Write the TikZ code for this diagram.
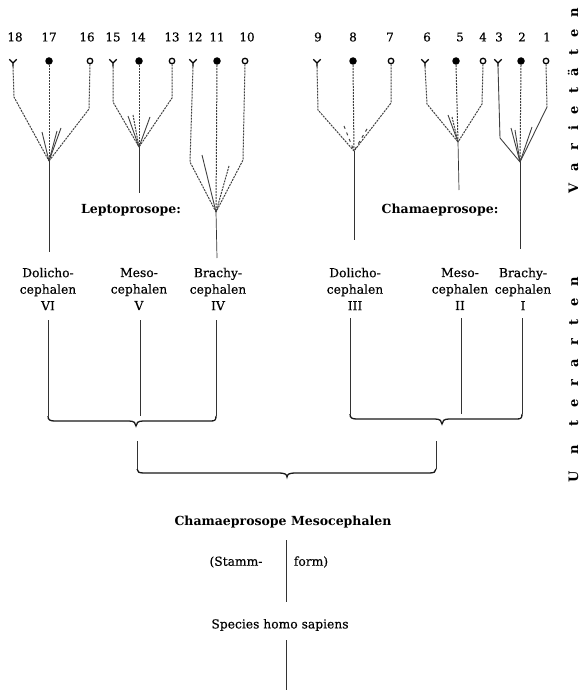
\documentclass[tikz,border=0pt]{standalone}
\usepackage{fontspec}
\setmainfont{DejaVu Serif}
\newfontfamily\heavyf[FakeBold=0.4]{DejaVu Serif}
\newcommand{\numf}{\heavyf\fontsize{12}{14}\selectfont}
\newcommand{\labf}{\heavyf\fontsize{12.3}{16.5}\selectfont}
\newcommand{\titf}{\bfseries\fontsize{12.5}{14}\selectfont}
\newcommand{\sidef}{\bfseries\fontsize{13}{14}\selectfont}
\begin{document}
\begin{tikzpicture}[x=1pt,y=-1pt,
  vbr/.style={line width=1pt, black!75, dash pattern=on 2pt off 1pt},
  vbrs/.style={line width=0.9pt, black!75},
  vsl/.style={line width=0.7pt, black!80},
  vbrace/.style={line width=1.3pt, black!90},
  vsym/.style={line width=1.3pt, black},
  vnum/.style={font=\numf, inner sep=0},
  vlab/.style={font=\labf, align=center, inner sep=0},
  vtitle/.style={font=\titf, inner sep=0},
  vside/.style={font=\sidef, inner sep=0, rotate=90, anchor=base},
  vdot/.style={circle, fill=black, inner sep=0, minimum size=7.5pt},
  vring/.style={circle, draw=black, line width=1.3pt, fill=white, inner sep=0, minimum size=5.5pt},
  vfork/.style={inner sep=0, minimum width=7pt, minimum height=7pt},
]
\useasboundingbox (0,0) rectangle (584,690);

% ---------- numbers ----------
\foreach \n/\xx in {18/15,17/49,16/87,15/113,14/138,13/172,12/195,11/217,10/247,
                     9/318,8/353,7/390,6/427,5/460,4/483,3/499,2/522,1/547}
  \node[vnum] (n\n) at (\xx,37) {\n};

% ---------- symbols ----------
\foreach \n/\xx in {18/13,15/113,12/193,9/317,6/425,3/498}{
  \node[vfork] (s\n) at (\xx,63) {};
  \draw[vsym] (s\n.north west) -- (s\n.center) -- (s\n.north east) (s\n.center) -- (s\n.south);
}
\foreach \n/\xx in {17/49,14/139,11/217,8/353,5/456,2/521}
  \node[vdot] (s\n) at (\xx,61) {};
\foreach \n/\xx in {16/90,13/172,10/245,7/391,4/483,1/546}
  \node[vring] (s\n) at (\xx,61) {};

% ---------- apexes ----------
\coordinate (a6) at (49,161);
\coordinate (a5) at (139,147);
\coordinate (a4) at (216,212);
\coordinate (a3) at (354,151);
\coordinate (a2) at (458,142);
\coordinate (a1) at (520,162);

% ---------- bends ----------
\coordinate (b18) at (14,97);  \coordinate (b16) at (89,109);
\coordinate (b15) at (113,102); \coordinate (b13) at (172,98);
\coordinate (b12) at (190,162); \coordinate (b10) at (243,160);
\coordinate (b9) at (318,110);  \coordinate (b7) at (391,103);
\coordinate (b6) at (427,104);  \coordinate (b4) at (482,104);
\coordinate (b3) at (500,138);  \coordinate (b1) at (547,107);

% ---------- fan branches ----------
\draw[vbr] (s18.south) -- (b18) -- (a6);
\draw[vbr] (s17.south) -- (a6);
\draw[vbr] (s16.south) -- (b16) -- (a6);
\draw[vbr] (s15.south) -- (b15) -- (a5);
\draw[vbr] (s14.south) -- (a5);
\draw[vbr] (s13.south) -- (b13) -- (a5);
\draw[vbr] (s12.south) -- (b12) -- (a4);
\draw[vbr] (s11.south) -- (a4);
\draw[vbr] (s10.south) -- (b10) -- (a4);
\draw[vbr] (s9.south) -- (b9) -- (a3);
\draw[vbr] (s8.south) -- (a3);
\draw[vbr] (s7.south) -- (b7) -- (a3);
\draw[vbr] (s6.south) -- (b6) -- (a2);
\draw[vbr] (s5.south) -- (a2);
\draw[vbr] (s4.south) -- (b4) -- (a2);
\draw[vbrs] (s3.south) -- (b3) -- (a1);
\draw[vbr] (s2.south) -- (a1);
\draw[vbr] (s1.south) -- (b1);
\draw[vbrs] (b1) -- (a1);

% ---------- extra short branches ----------
\coordinate (e6a) at (42,132); \coordinate (e6b) at (57,131); \coordinate (e6c) at (61,128);
\coordinate (e5a) at (128,116); \coordinate (e5b) at (133,115); \coordinate (e5c) at (150,117);
\coordinate (e4a) at (202,155); \coordinate (e4b) at (229,166);
\coordinate (e3a) at (344,126); \coordinate (e3b) at (367,129);
\coordinate (e2a) at (448,115); \coordinate (e2b) at (452,117);
\coordinate (e1a) at (511,128); \coordinate (e1b) at (515,130); \coordinate (e1c) at (532,127);
\foreach \e/\a in {e6a/a6,e6b/a6,e6c/a6,e5a/a5,e5c/a5,e4a/a4,e2a/a2,e1a/a1,e1b/a1,e1c/a1}
  \draw[vbrs] (\e) -- (\a);
\foreach \e/\a in {e5b/a5,e4b/a4,e2b/a2}
  \draw[vbr] (\e) -- (\a);
\draw[vbr, dash pattern=on 3pt off 4pt] (e3a) -- (a3);
\draw[vbr, dash pattern=on 3pt off 4pt] (e3b) -- (a3);

% ---------- stems ----------
\coordinate (t6) at (49,252);
\coordinate (t5) at (139,193);
\coordinate (t4) at (217,258);
\coordinate (t3) at (354,240);
\coordinate (t2) at (459,190);
\coordinate (t1) at (520,249);
\foreach \i in {1,...,6} \draw[vsl] (a\i) -- (t\i);

% ---------- group titles ----------
\node[vtitle] (lepto) at (131,210) {Leptoprosope:};
\node[vtitle] (chamae) at (440,210) {Chamaeprosope:};

% ---------- sub-type labels ----------
\node[vlab] (l6) at (48,289) {Dolicho-\\cephalen\\VI};
\node[vlab] (l5) at (139,289) {Meso-\\cephalen\\V};
\node[vlab] (l4) at (218,289) {Brachy-\\cephalen\\IV};
\node[vlab] (l3) at (355,289) {Dolicho-\\cephalen\\III};
\node[vlab] (l2) at (460,289) {Meso-\\cephalen\\II};
\node[vlab] (l1) at (523,289) {Brachy-\\cephalen\\I};

% ---------- lines to braces ----------
\coordinate (u6) at (48,320);  \coordinate (d6) at (48,416);
\coordinate (u5) at (140,320); \coordinate (d5) at (140,416);
\coordinate (u4) at (216,320); \coordinate (d4) at (216,416);
\coordinate (u3) at (350,318); \coordinate (d3) at (350,414);
\coordinate (u2) at (461,318); \coordinate (d2) at (461,414);
\coordinate (u1) at (522,318); \coordinate (d1) at (522,414);
\foreach \i in {1,...,6} \draw[vsl] (u\i) -- (d\i);

% ---------- braces ----------
\draw[vbrace] (d6) .. controls (48,420) and (50,421) .. (55,421) -- (129,421)
  .. controls (134,421) and (136,423) .. (136,426)
  .. controls (136,423) and (138,421) .. (143,421) -- (211,421)
  .. controls (215,421) and (216,420) .. (d4);
\draw[vbrace] (d3) .. controls (350,418) and (352,419) .. (357,419) -- (435,419)
  .. controls (440,419) and (442,421) .. (442,424)
  .. controls (442,421) and (444,419) .. (449,419) -- (517,419)
  .. controls (521,419) and (522,418) .. (d1);

\coordinate (m1) at (137,441); \coordinate (m1b) at (137,469);
\coordinate (m2) at (436,441); \coordinate (m2b) at (436,469);
\draw[vsl] (m1) -- (m1b);
\draw[vsl] (m2) -- (m2b);
\draw[vbrace] (m1b) .. controls (137,472) and (139,473) .. (144,473) -- (279,473)
  .. controls (284,473) and (287,474) .. (287,477)
  .. controls (287,474) and (290,473) .. (295,473) -- (429,473)
  .. controls (434,473) and (436,472) .. (m2b);

% ---------- root ----------
\node[vtitle] (root) at (283,522) {Chamaeprosope Mesocephalen};
\coordinate (r1) at (286,540); \coordinate (r2) at (286,602);
\draw[vsl] (r1) -- (r2);
\node[vlab] (stamm) at (236,562) {(Stamm-};
\node[vlab] (form) at (311,562) {form)};
\node[vlab] (species) at (280,625) {Species homo sapiens};
\coordinate (r3) at (286,640); \coordinate (r4) at (286,690);
\draw[vsl] (r3) -- (r4);

% ---------- side texts ----------
\foreach \ch/\yy [count=\k] in {V/188,a/167,r/147,i/128,e/110,t/90,ä/72,t/52,e/33,n/13}
  \node[vside] (var\k) at (578,\yy) {\ch};
\foreach \ch/\yy [count=\k] in {U/477,n/450,t/423,e/403,r/383,a/363,r/342,t/322,e/302,n/282}
  \node[vside] (unt\k) at (578,\yy) {\ch};
\end{tikzpicture}
\end{document}
